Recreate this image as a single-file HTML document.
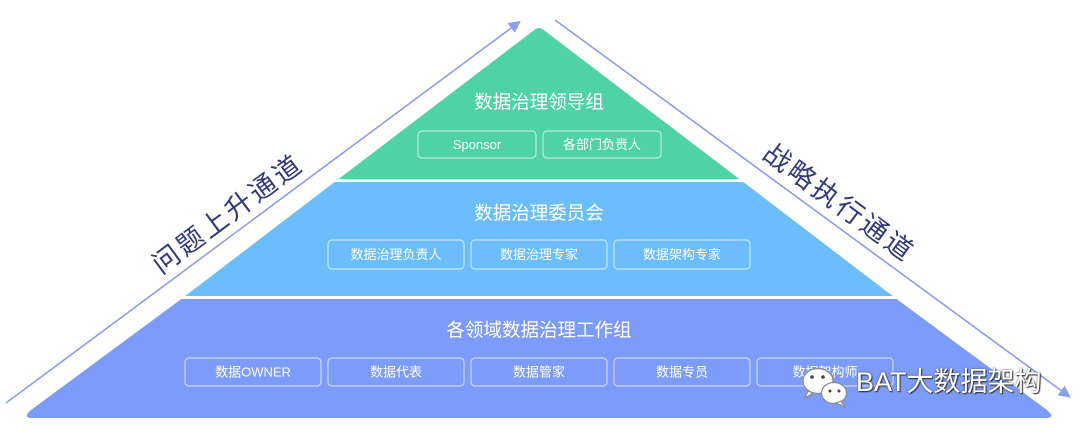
<!DOCTYPE html>
<html>
<head>
<meta charset="utf-8">
<style>
  html,body{margin:0;padding:0;background:#fff;}
  body{width:1080px;height:436px;position:relative;overflow:hidden;}
  svg{position:absolute;left:0;top:0;}
  .t{font-family:"Liberation Sans","Noto Sans CJK SC",sans-serif;fill:#fff;}
  .wm{position:absolute;left:856px;top:364px;font-family:"Liberation Sans","Noto Sans CJK SC",sans-serif;font-size:27px;color:#fff;text-shadow:1px 1px 1px #333,0 0 2px #555;white-space:nowrap;line-height:36px;}
</style>
</head>
<body>
<svg width="1080" height="436" viewBox="0 0 1080 436" xmlns="http://www.w3.org/2000/svg">
  <defs>
    <marker id="ah" viewBox="0 0 12 12" refX="11" refY="6" markerWidth="12" markerHeight="12" markerUnits="userSpaceOnUse" orient="auto">
      <path d="M0,0 L12,6 L0,12 Z" fill="#8a9ef2"/>
    </marker>
  </defs>

  <!-- green layer -->
  <path d="M533,31 Q539,25 545,31 L739.4,179 L338.6,179 Z" fill="#50d2a7"/>
  <!-- blue layer -->
  <path d="M334.6,182 L743.4,182 L892.7,296 L185.3,296 Z" fill="#6bbdfc"/>
  <!-- purple layer -->
  <path d="M181.4,299 L896.6,299 L1047,410 Q1056,418 1046,418 L32,418 Q22,418 31,410 Z" fill="#7d9bfa"/>

  <!-- arrows -->
  <line x1="6" y1="403" x2="520" y2="21.5" stroke="#8a9ef2" stroke-width="1.6" marker-end="url(#ah)"/>
  <line x1="555" y1="20" x2="1070" y2="397" stroke="#8a9ef2" stroke-width="1.6" marker-end="url(#ah)"/>

  <!-- rotated labels -->
  <text x="228" y="214" transform="rotate(-36.6 228 214)" text-anchor="middle" dominant-baseline="central" font-family="'Liberation Sans','Noto Sans CJK SC',sans-serif" font-size="27" letter-spacing="3" fill="#2e3a7c">问题上升通道</text>
  <text x="839" y="203" transform="rotate(36.2 839 203)" text-anchor="middle" dominant-baseline="central" font-family="'Liberation Sans','Noto Sans CJK SC',sans-serif" font-size="27" letter-spacing="3" fill="#2e3a7c">战略执行通道</text>

  <!-- layer 1 -->
  <text class="t" x="539" y="102" text-anchor="middle" dominant-baseline="central" font-size="18.5">数据治理领导组</text>
  <g fill="none" stroke="rgba(255,255,255,0.6)" stroke-width="1.2">
    <rect x="418" y="131" width="118" height="27" rx="4"/>
    <rect x="543" y="131" width="118" height="27" rx="4"/>
  </g>
  <text class="t" x="477" y="144.5" text-anchor="middle" dominant-baseline="central" font-size="13">Sponsor</text>
  <text class="t" x="602" y="144.5" text-anchor="middle" dominant-baseline="central" font-size="13">各部门负责人</text>

  <!-- layer 2 -->
  <text class="t" x="539" y="213" text-anchor="middle" dominant-baseline="central" font-size="18.5">数据治理委员会</text>
  <g fill="none" stroke="rgba(255,255,255,0.6)" stroke-width="1.2">
    <rect x="328" y="240" width="136" height="29" rx="4"/>
    <rect x="471" y="240" width="136" height="29" rx="4"/>
    <rect x="614" y="240" width="136" height="29" rx="4"/>
  </g>
  <text class="t" x="396" y="254.5" text-anchor="middle" dominant-baseline="central" font-size="13">数据治理负责人</text>
  <text class="t" x="539" y="254.5" text-anchor="middle" dominant-baseline="central" font-size="13">数据治理专家</text>
  <text class="t" x="682" y="254.5" text-anchor="middle" dominant-baseline="central" font-size="13">数据架构专家</text>

  <!-- layer 3 -->
  <text class="t" x="539" y="330" text-anchor="middle" dominant-baseline="central" font-size="18.5">各领域数据治理工作组</text>
  <g fill="none" stroke="rgba(255,255,255,0.6)" stroke-width="1.2">
    <rect x="185" y="358" width="136" height="28" rx="4"/>
    <rect x="328" y="358" width="136" height="28" rx="4"/>
    <rect x="471" y="358" width="136" height="28" rx="4"/>
    <rect x="614" y="358" width="136" height="28" rx="4"/>
    <rect x="757" y="358" width="136" height="28" rx="4"/>
  </g>
  <text class="t" x="253" y="372" text-anchor="middle" dominant-baseline="central" font-size="13">数据OWNER</text>
  <text class="t" x="396" y="372" text-anchor="middle" dominant-baseline="central" font-size="13">数据代表</text>
  <text class="t" x="539" y="372" text-anchor="middle" dominant-baseline="central" font-size="13">数据管家</text>
  <text class="t" x="682" y="372" text-anchor="middle" dominant-baseline="central" font-size="13">数据专员</text>
  <text class="t" x="825" y="372" text-anchor="middle" dominant-baseline="central" font-size="13">数据架构师</text>

  <!-- wechat icon -->
  <g stroke="#8a8a8a" stroke-width="1.2">
    <ellipse cx="818" cy="381" rx="15" ry="12.5" fill="#fff"/>
    <path d="M808,391 L805,398 L813,393 Z" fill="#fff"/>
    <ellipse cx="834" cy="393" rx="12.5" ry="10.5" fill="#fff"/>
    <path d="M841,401 L845,407 L836,403 Z" fill="#fff"/>
  </g>
  <circle cx="812" cy="377" r="1.8" fill="#444"/>
  <circle cx="823" cy="377" r="1.8" fill="#444"/>
  <circle cx="830" cy="391" r="1.5" fill="#444"/>
  <circle cx="839" cy="391" r="1.5" fill="#444"/>
</svg>
<div class="wm">BAT大数据架构</div>
</body>
</html>
